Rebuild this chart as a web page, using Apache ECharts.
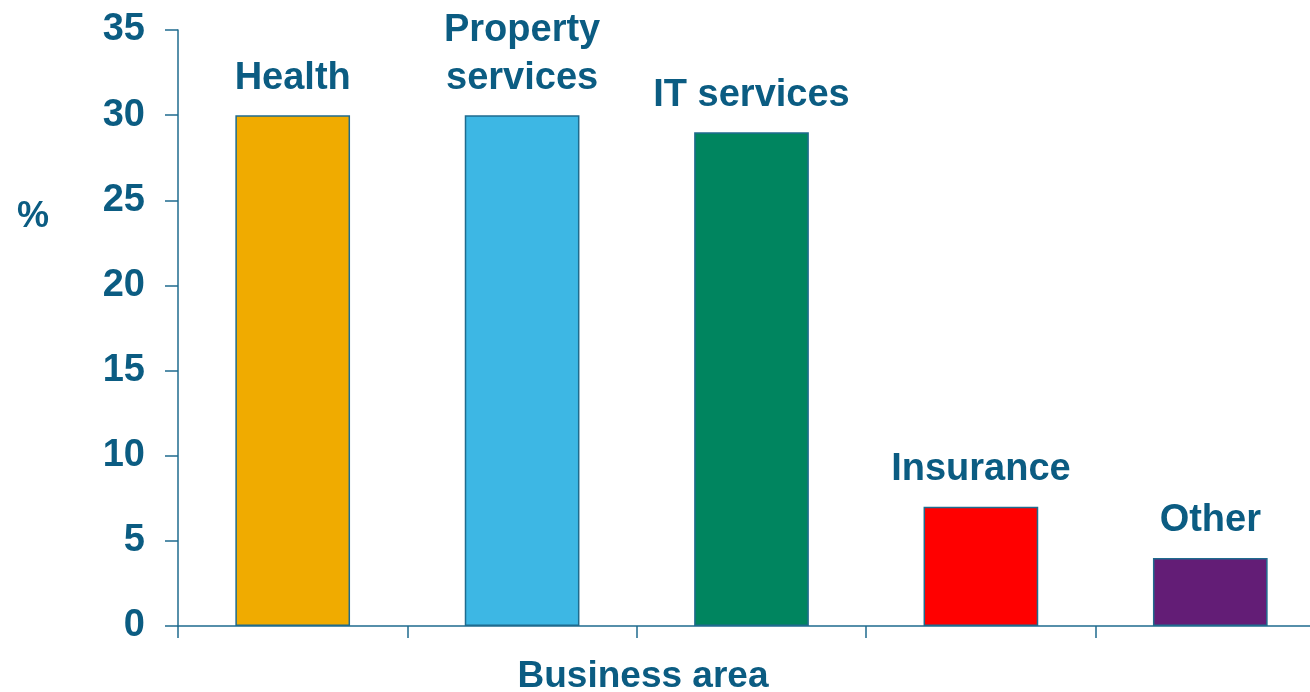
<!DOCTYPE html>
<html><head><meta charset="utf-8">
<script src="https://cdn.jsdelivr.net/npm/echarts@6/dist/echarts.min.js"></script>
<style>html,body{margin:0;padding:0;background:#fff}#c{width:1310px;height:692px}</style>
</head><body><div id="c"></div>
<script>
const categories = ['Health', 'Property\nservices', 'IT services', 'Insurance', 'Other'];
const values = [30, 30, 29, 7, 4];
const barColors = ['#F0AB00', '#3DB7E4', '#00855F', '#FF0000', '#631D76'];
const yTicks = [0, 5, 10, 15, 20, 25, 30, 35];
const textColor = '#0b5c82';
const axisColor = '#1f6b8e';
const font = 'Liberation Sans, Arial, sans-serif';

const chart = echarts.init(document.getElementById('c'));
chart.setOption({
  animation: false,
  grid: { left: 178, width: 1147, top: 30, bottom: 66, containLabel: false, outerBoundsMode: 'none' },
  xAxis: {
    type: 'category', data: categories,
    axisLine: { lineStyle: { color: axisColor, width: 1.5 } },
    axisTick: { show: true, length: 12, lineStyle: { color: axisColor, width: 1.5 } },
    axisLabel: { show: false }
  },
  yAxis: {
    type: 'value', min: yTicks[0], max: yTicks[yTicks.length - 1], interval: 5,
    splitLine: { show: false },
    axisLine: { show: true, lineStyle: { color: axisColor, width: 1.5 } },
    axisTick: { show: true, length: 13, lineStyle: { color: axisColor, width: 1.5 } },
    axisLabel: { margin: 33, color: textColor, fontFamily: font, fontWeight: 'bold', fontSize: 38 }
  },
  series: [{
    type: 'bar', barWidth: '50%',
    data: values.map((v, i) => ({ value: v, itemStyle: { color: barColors[i] } })),
    itemStyle: { borderColor: '#1f6b8e', borderWidth: 1.5 },
    label: {
      show: true, position: 'top', distance: 13,
      formatter: p => categories[p.dataIndex],
      color: textColor, fontFamily: font, fontWeight: 'bold', fontSize: 38, lineHeight: 48
    }
  }],
  graphic: [
    { type: 'text', x: 33, y: 217, style: { text: '%', fill: textColor, font: 'bold 36px ' + font, align: 'center', verticalAlign: 'middle' } },
    { type: 'text', x: 643, y: 677, style: { text: 'Business area', fill: textColor, font: 'bold 37px ' + font, align: 'center', verticalAlign: 'middle' } }
  ]
});
</script></body></html>
